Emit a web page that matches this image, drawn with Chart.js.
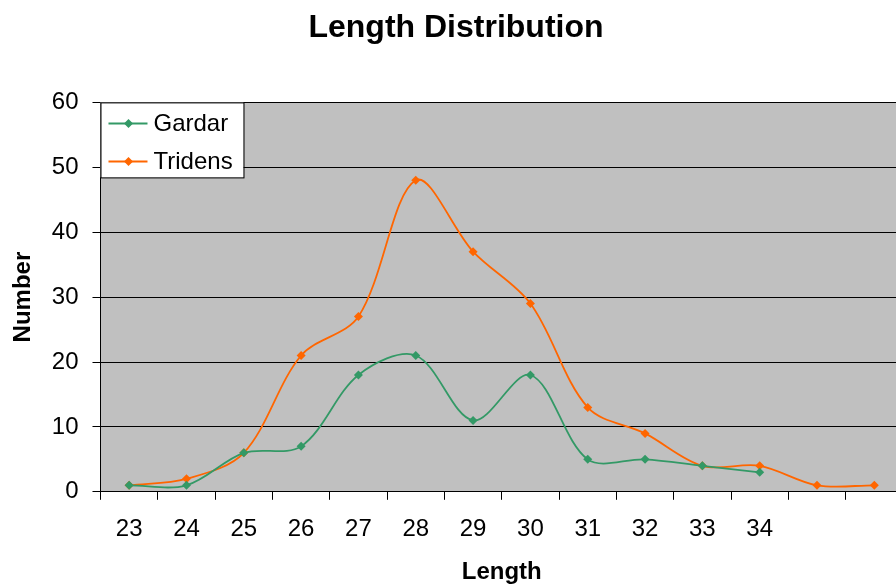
<!DOCTYPE html>
<html>
<head>
<meta charset="utf-8">
<script src="https://cdn.jsdelivr.net/npm/chart.js@4/dist/chart.umd.min.js"></script>
<style>
    html, body { margin: 0; padding: 0; background: #fff; overflow: hidden; }
    #wrap { width: 896px; height: 586px; overflow: hidden; }
</style>
</head>
<body>
<div id="wrap"><canvas id="lengthChart" width="938" height="586"></canvas></div>
<script>
    // length classes (the last two have no printed label)
    const lengths = ['23', '24', '25', '26', '27', '28', '29', '30', '31', '32', '33', '34', '', ''];
    const gardar = [1, 1, 6, 7, 18, 21, 11, 18, 5, 5, 4, 3, null, null];
    const tridens = [1, 2, 6, 21, 27, 48, 37, 29, 13, 9, 4, 4, 1, 1];
    const yTicks = [0, 10, 20, 30, 40, 50, 60];

    const FONT = "'Liberation Sans', Arial, sans-serif";
    const green = '#339966';
    const orange = '#FF6600';

    // grey plot background
    const plotBackground = {
        id: 'plotBackground',
        beforeDraw(chart) {
            const a = chart.chartArea;
            const ctx = chart.ctx;
            ctx.save();
            ctx.fillStyle = '#C0C0C0';
            ctx.fillRect(a.left, a.top, a.right - a.left, a.bottom - a.top);
            ctx.restore();
        }
    };

    // boxed legend sitting in the top left corner of the plot
    const boxLegend = {
        id: 'boxLegend',
        afterDraw(chart) {
            const ctx = chart.ctx;
            const a = chart.chartArea;
            const x = a.left, y = a.top, w = 143, h = 75;
            ctx.save();
            ctx.fillStyle = '#fff';
            ctx.fillRect(x, y, w, h);
            ctx.strokeStyle = '#000';
            ctx.lineWidth = 1;
            ctx.strokeRect(x + 0.5, y + 0.5, w, h);
            ctx.font = '24px ' + FONT;
            ctx.textBaseline = 'middle';
            chart.data.datasets.forEach((ds, i) => {
                const ry = y + 21 + i * 38;
                ctx.strokeStyle = ds.borderColor;
                ctx.lineWidth = 2;
                ctx.beginPath();
                ctx.moveTo(x + 8, ry);
                ctx.lineTo(x + 47, ry);
                ctx.stroke();
                ctx.fillStyle = ds.borderColor;
                ctx.beginPath();
                ctx.moveTo(x + 28 - 4.5, ry);
                ctx.lineTo(x + 28, ry - 4.5);
                ctx.lineTo(x + 28 + 4.5, ry);
                ctx.lineTo(x + 28, ry + 4.5);
                ctx.closePath();
                ctx.fill();
                ctx.fillStyle = '#000';
                ctx.fillText(ds.label, x + 53, ry + 1);
            });
            ctx.restore();
        }
    };

    function series(label, values, color) {
        return {
            label: label,
            data: values,
            borderColor: color,
            backgroundColor: color,
            borderWidth: 1.8,
            pointStyle: 'rectRot',
            pointRadius: 4.5,
            pointBorderWidth: 0,
            tension: 0.33,
            spanGaps: false,
            fill: false
        };
    }

    new Chart(document.getElementById('lengthChart'), {
        type: 'line',
        data: {
            labels: lengths,
            datasets: [series('Gardar', gardar, green), series('Tridens', tridens, orange)]
        },
        options: {
            responsive: false,
            animation: false,
            layout: { padding: { left: 9, right: 35, top: 0, bottom: 0 } },
            plugins: {
                legend: { display: false },
                tooltip: { enabled: false },
                title: {
                    display: true,
                    text: 'Length Distribution',
                    color: '#000',
                    font: { family: FONT, size: 32, weight: 'bold' },
                    padding: { top: 9, bottom: 55 }
                }
            },
            scales: {
                x: {
                    offset: true,
                    grid: {
                        offset: true,
                        drawOnChartArea: false,
                        drawTicks: true,
                        tickLength: 8,
                        color: '#000'
                    },
                    border: { color: '#000', width: 1 },
                    ticks: {
                        color: '#000',
                        font: { family: FONT, size: 24 },
                        padding: 15,
                        maxRotation: 0,
                        autoSkip: false
                    },
                    title: {
                        display: true,
                        text: 'Length',
                        color: '#000',
                        font: { family: FONT, size: 24, weight: 'bold', lineHeight: 1.1 },
                        padding: { top: 1, bottom: 0 }
                    }
                },
                y: {
                    min: yTicks[0],
                    max: yTicks[yTicks.length - 1],
                    afterBuildTicks(axis) { axis.ticks = yTicks.map(v => ({ value: v })); },
                    grid: {
                        color: '#000',
                        lineWidth: 1,
                        tickLength: 8
                    },
                    border: { color: '#000', width: 1 },
                    ticks: {
                        color: '#000',
                        font: { family: FONT, size: 24 },
                        padding: 14
                    },
                    title: {
                        display: true,
                        text: 'Number',
                        color: '#000',
                        font: { family: FONT, size: 24, weight: 'bold' },
                        padding: { top: 0, bottom: 0 }
                    }
                }
            }
        },
        plugins: [plotBackground, boxLegend]
    });
</script>
</body>
</html>
